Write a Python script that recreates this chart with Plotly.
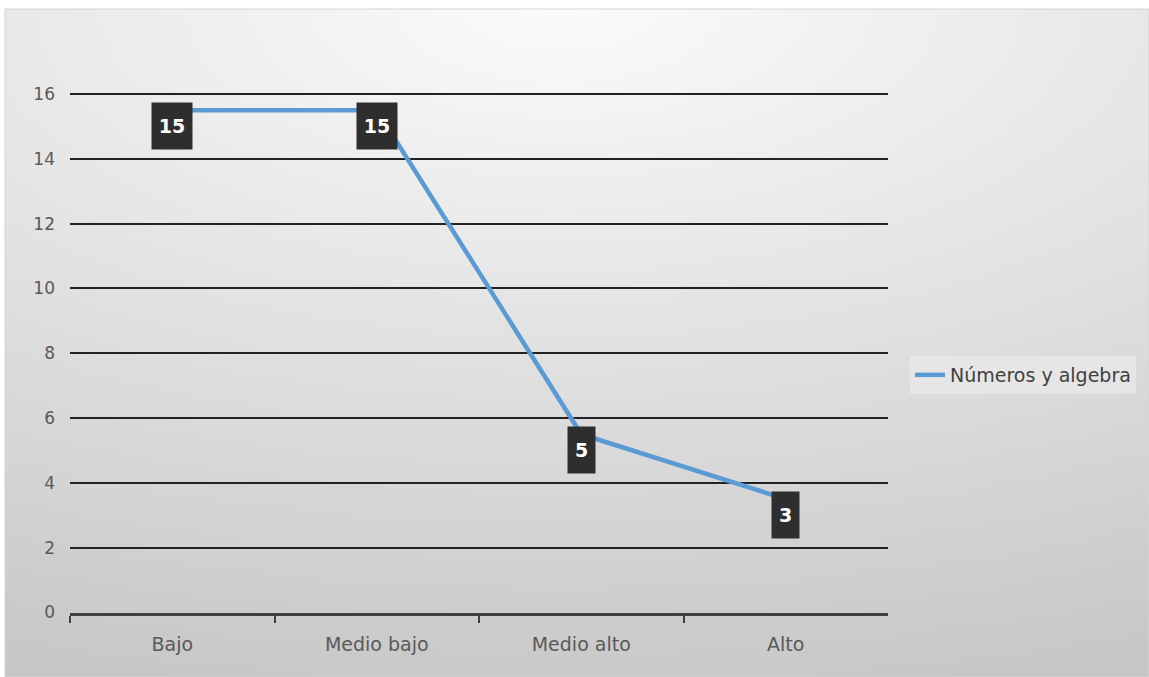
import zlib, struct, base64, math
import plotly.graph_objects as go

# ---------------- data ----------------
categories = ["Bajo", "Medio bajo", "Medio alto", "Alto"]
values = [15, 15, 5, 3]
series_name = "Números y algebra"
y_ticks = [0, 2, 4, 6, 8, 10, 12, 14, 16]

W, H = 1149, 677

# ---------------- background gradient image (style only) ----------------
def make_png(w, h, fn):
    raw = bytearray()
    for j in range(h):
        raw.append(0)
        for i in range(w):
            raw.append(fn(i, j))
    def chunk(t, d):
        c = struct.pack(">I", len(d)) + t + d
        return c + struct.pack(">I", zlib.crc32(t + d) & 0xffffffff)
    png = b"\x89PNG\r\n\x1a\n"
    png += chunk(b"IHDR", struct.pack(">IIBBBBB", w, h, 8, 0, 0, 0, 0))
    png += chunk(b"IDAT", zlib.compress(bytes(raw), 9))
    png += chunk(b"IEND", b"")
    return "data:image/png;base64," + base64.b64encode(png).decode()

bx0, by0 = 5, 9
bw, bh = W - bx0, H - by0
gw, gh = 230, 134
def shade(i, j):
    px = bx0 + (i + 0.5) / gw * bw
    py = by0 + (j + 0.5) / gh * bh
    dx = (px - 560) / 1500.0
    dy = (py - by0) / bh
    r = math.sqrt(dx * dx + dy * dy)
    return max(0, min(255, int(round(251 - 50 * r))))
bg_src = make_png(gw, gh, shade)

# ---------------- figure ----------------
fig = go.Figure()
fig.add_trace(go.Scatter(
    x=categories, y=values, name=series_name, mode="lines",
    line=dict(color="#5b9bd5", width=4.5),
    xaxis="x", yaxis="y2", showlegend=True,
))

font_family = "DejaVu Sans"
annotations = []
for c, v in zip(categories, values):
    lbl = str(v)
    annotations.append(dict(
        x=c, y=v, xref="x", yref="y", text="<b>%s</b>" % lbl, showarrow=False,
        xanchor="center", yanchor="middle",
        font=dict(family=font_family, size=19, color="white"),
        bgcolor="#2e2e2e", borderpad=7, width=13 * len(lbl), height=32,
    ))

ytop = 16.3
px_per_unit = (612.5 - 94) / 16.0
x0d, x1d = 70 / W, 888 / W
y0d = 1 - 612.5 / H
y1d = 1 - (94 - (ytop - 16) * px_per_unit) / H

fig.update_layout(
    width=W, height=H,
    margin=dict(l=0, r=0, t=0, b=0),
    paper_bgcolor="white",
    plot_bgcolor="rgba(0,0,0,0)",
    font=dict(family=font_family, size=17, color="#595959"),
    xaxis=dict(
        domain=[x0d, x1d], type="category", range=[-0.5, 3.5],
        showgrid=False, showline=True, linecolor="#404040", linewidth=3,
        ticks="outside", tickson="boundaries", ticklen=7, tickwidth=2,
        tickcolor="#404040", ticklabelstandoff=13, automargin=False,
        tickfont=dict(size=19, color="#595959"),
    ),
    yaxis=dict(
        domain=[y0d, y1d], range=[0, ytop], tickvals=y_ticks,
        showgrid=True, gridcolor="#222222", gridwidth=1.6,
        zeroline=False, showline=False, ticks="", ticklabelstandoff=14,
        automargin=False, tickfont=dict(size=17, color="#595959"),
    ),
    yaxis2=dict(
        overlaying="y", range=[-0.5, ytop - 0.5], visible=False,
    ),
    legend=dict(
        x=910 / W, y=1 - 375 / H, xanchor="left", yanchor="middle",
        bgcolor="rgba(236,236,236,0.6)",
        font=dict(family=font_family, size=19, color="#404040"),
        itemwidth=30,
    ),
    annotations=annotations,
    images=[dict(
        source=bg_src, xref="paper", yref="paper",
        x=bx0 / W, y=1 - by0 / H, sizex=bw / W, sizey=bh / H,
        xanchor="left", yanchor="top", sizing="stretch", layer="below",
    )],
    shapes=[dict(
        type="rect", xref="paper", yref="paper",
        x0=bx0 / W, x1=1, y0=0, y1=1 - by0 / H,
        line=dict(color="#d4d4d4", width=1), layer="below",
    )],
)

fig.write_html("out.html", config={"displayModeBar": False},
               post_script="document.body.style.margin='0';")
